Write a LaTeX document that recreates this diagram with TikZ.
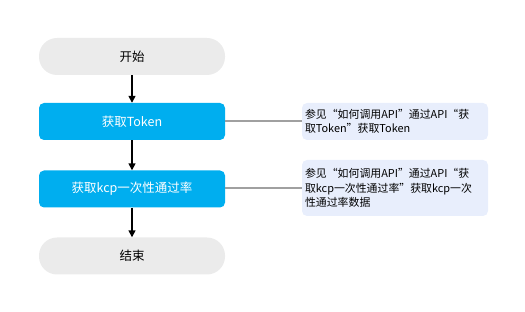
\documentclass[tikz,border=0pt]{standalone}
\usepackage{fontspec}
\setmainfont{Noto Sans CJK SC}
\usepackage{xcolor}
\usetikzlibrary{arrows.meta, positioning}
\definecolor{endgray}{HTML}{EBEBEB}
\definecolor{stepblue}{HTML}{00AEEF}
\definecolor{notefill}{HTML}{E8EEFC}
\definecolor{linkgray}{HTML}{A0A0A0}

\begin{document}
\begin{tikzpicture}[x=1pt,y=-1pt,
  endbox/.style={fill=endgray, rounded corners=18pt, minimum width=186pt, minimum height=37pt, inner sep=0pt, font=\fontsize{12.5}{14}\selectfont},
  stepbox/.style={fill=stepblue, rounded corners=5pt, minimum width=186pt, minimum height=37pt, inner sep=0pt, text=white, font=\fontsize{12.5}{14}\selectfont},
  notebox/.style={fill=notefill, rounded corners=5pt, text width=180pt, inner xsep=3pt, inner ysep=4pt, align=left, font=\fontsize{10.9}{14.5}\selectfont},
  flow/.style={line width=1.5pt, -{Triangle[width=7pt,length=7pt]}},
  link/.style={draw=linkgray, line width=2pt}]
\useasboundingbox (0,0) rectangle (525,312);
% flow
\node[endbox] (start) at (132,56.5) {开始};
\node[stepbox] (token) at (132,121.5) {获取Token};
\node[stepbox] (rate) at (132,189) {获取kcp一次性通过率};
\node[endbox] (stop) at (132,256) {结束};
% notes
\node[notebox, minimum height=37pt] (tokennote) at (395,121.5) {参见“如何调用API”通过API“获\\取Token”获取Token};
\node[notebox, minimum height=56pt] (ratenote) at (395,188) {参见“如何调用API”通过API“获\\取kcp一次性通过率”获取kcp一次\\性通过率数据};
\draw[flow] (start) -- (token);
\draw[flow] (token) -- (rate);
\draw[flow] (rate) -- (stop);
\draw[link] (token) -- (tokennote);
\draw[link] (rate.east |- ratenote.west) -- (ratenote);
\end{tikzpicture}
\end{document}
